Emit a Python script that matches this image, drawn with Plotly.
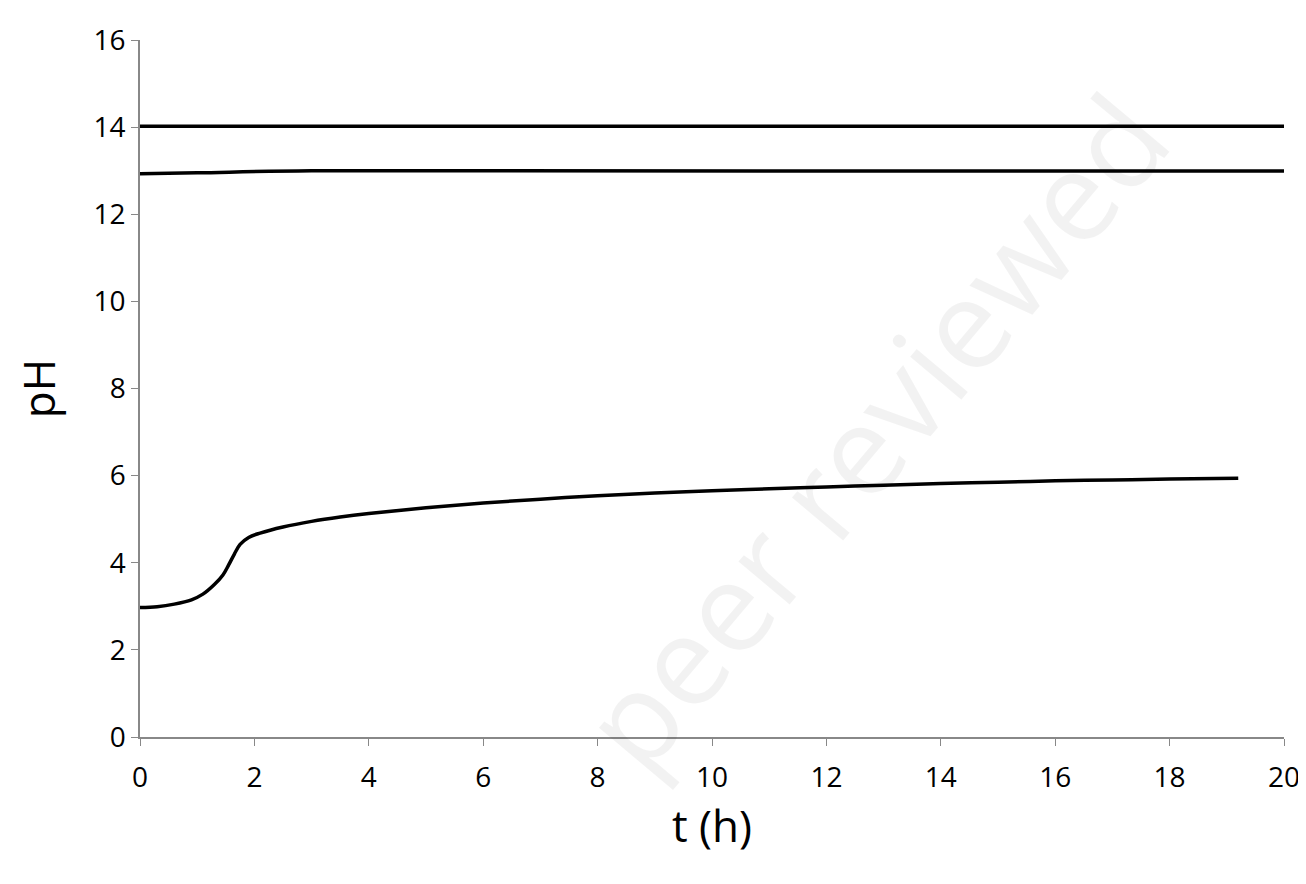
import plotly.graph_objects as go

# pH curve
T_CURVE = [0, 0.3, 0.6, 0.9, 1.1, 1.3, 1.45, 1.55, 1.65, 1.75, 1.9, 2.1, 2.5, 3, 3.5, 4, 5, 6, 7, 8, 9, 10,
           11, 12, 13, 14, 15, 16, 17, 18, 19.2]
PH_CURVE = [2.97, 2.99, 3.05, 3.15, 3.28, 3.5, 3.72, 3.95, 4.2, 4.42, 4.58, 4.68, 4.82, 4.95, 5.05, 5.13,
            5.26, 5.37, 5.46, 5.54, 5.6, 5.65, 5.7, 5.74, 5.78, 5.82, 5.85, 5.88, 5.9, 5.92, 5.94]
T_FLAT = [0, 1, 3, 20]
PH_14 = [14.02, 14.02, 14.02, 14.02]
PH_13 = [12.93, 12.95, 13.0, 12.99]

X_TICKS = list(range(0, 21, 2))
Y_TICKS = list(range(0, 17, 2))

FONT = "Open Sans"

fig = go.Figure()
for x, y in [(T_FLAT, PH_14), (T_FLAT, PH_13), (T_CURVE, PH_CURVE)]:
    fig.add_trace(go.Scatter(x=x, y=y, mode="lines", line=dict(color="black", width=3.5, shape="spline"),
                             showlegend=False))

fig.add_annotation(text="peer reviewed", x=0.64, y=0.44, xref="paper", yref="paper", showarrow=False,
                   textangle=-50, font=dict(family=FONT, size=125, color="rgba(0,0,0,0.05)"))

axis = dict(showgrid=False, zeroline=False, showline=True, linecolor="#888", linewidth=1.5,
            ticks="outside", tickcolor="#888", ticklen=7, tickfont=dict(family=FONT, size=28, color="black"))
fig.update_xaxes(range=[0, 20], tickvals=X_TICKS, ticklabelstandoff=8,
                 title=dict(text="t (h)", standoff=8, font=dict(family=FONT, size=44, color="black")), **axis)
fig.update_yaxes(range=[0, 16], tickvals=Y_TICKS,
                 title=dict(text="pH", standoff=25, font=dict(family=FONT, size=44, color="black")), **axis)
fig.update_layout(width=1306, height=884, plot_bgcolor="white", paper_bgcolor="white",
                  margin=dict(l=132, r=30, t=22, b=155))

fig.write_html("out.html")
